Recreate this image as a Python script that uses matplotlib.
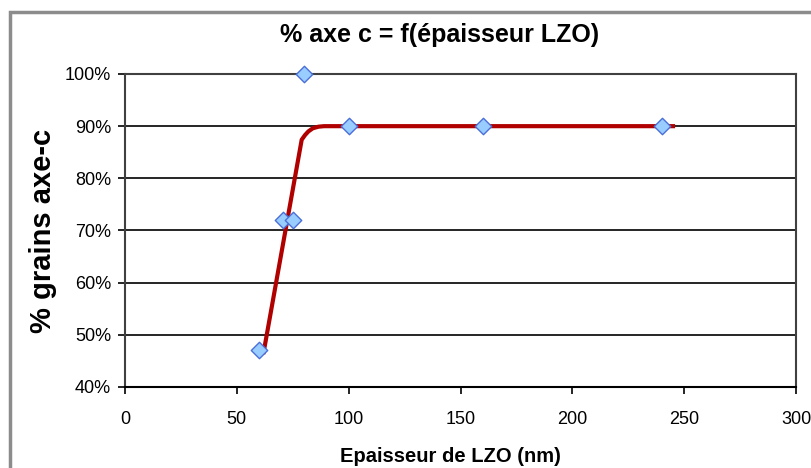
import matplotlib.pyplot as plt
from matplotlib.patches import Rectangle
from matplotlib.ticker import FuncFormatter

plt.rcParams['font.family'] = ['Liberation Sans', 'DejaVu Sans']

# measured points
epaisseur = [60, 70.5, 75, 80, 100, 160, 240]
pct_axe_c = [47, 72, 72, 100, 90, 90, 90]

# fitted trend curve
fit_x = [62, 79, 80.5, 82, 84, 86.5, 89, 245]
fit_y = [46.7, 87.4, 88.3, 89.0, 89.6, 89.9, 90.0, 90.0]

fig = plt.figure(figsize=(8.11, 4.68), dpi=100)
ax = fig.add_axes([125 / 811, 1 - 387 / 468, 671 / 811, 313 / 468])

# grey chart border, running past the right and bottom edges
fig.patches.append(Rectangle((10 / 811, -0.05), 1.0, 1 - 12 / 468 + 0.05,
                             transform=fig.transFigure, fill=False,
                             edgecolor='#8c8c8c', linewidth=2.5))

ax.plot(fit_x, fit_y, color='#b00000', linewidth=3, zorder=2)
ax.scatter(epaisseur, pct_axe_c, marker='D', s=70, facecolor='#99ccff',
           edgecolor='#4a6fd8', linewidth=1, zorder=3, clip_on=False)

ax.set_xlim(0, 300)
ax.set_ylim(40, 100)
ax.set_xticks(range(0, 301, 50))
ax.set_yticks(range(40, 101, 10))
ax.yaxis.set_major_formatter(FuncFormatter(lambda v, p: '%d%%' % v))
ax.grid(axis='y', color='black', linewidth=1.2)
ax.set_axisbelow(True)
for s in ax.spines.values():
    s.set_color('#404040')
    s.set_linewidth(1.5)
ax.spines['bottom'].set_color('black')
ax.tick_params(direction='out', length=5, width=1.2, labelsize=13, pad=12)
ax.tick_params(axis='y', pad=5)

fig.text(440 / 811, 1 - 35 / 468, '% axe c = f(épaisseur LZO)', fontsize=18,
         fontweight='bold', ha='center', va='center')
fig.text(450 / 811, 1 - 457 / 468, 'Epaisseur de LZO (nm)', fontsize=14.5,
         fontweight='bold', ha='center', va='center')
ax.set_ylabel('% grains axe-c', fontsize=21, fontweight='bold', labelpad=6)

fig.savefig('out.png', dpi=100)
